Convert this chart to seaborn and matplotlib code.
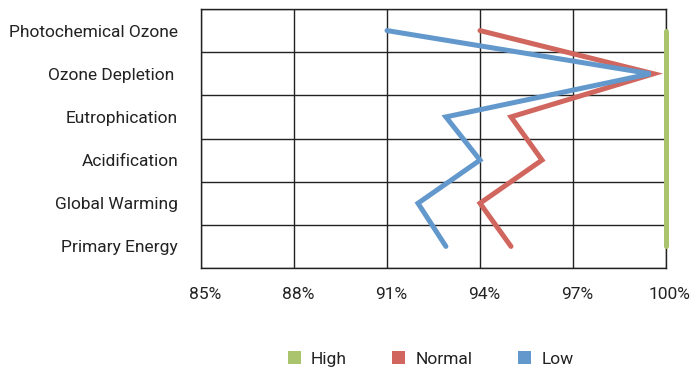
import matplotlib
matplotlib.use("Agg")
import matplotlib.pyplot as plt
import matplotlib.transforms as mtransforms
from matplotlib.patches import Patch
import seaborn as sns
import pandas as pd
import numpy as np

categories = ["Photochemical Ozone", "Ozone Depletion ", "Eutrophication",
              "Acidification", "Global Warming", "Primary Energy"]
high = [100.0, 100.0, 100.0, 100.0, 100.0, 100.0]
normal = [94.0, 99.6, 95.0, 96.0, 94.0, 95.0]
low = [91.0, 99.5, 92.9, 94.0, 92.0, 92.9]
series_names = ["High", "Normal", "Low"]
x_ticks = [85, 88, 91, 94, 97, 100]
x_tick_labels = ["85%", "88%", "91%", "94%", "97%", "100%"]

colors = {"High": "#A9C46C", "Normal": "#D0665E", "Low": "#6298CB"}

sns.set_theme(style="white")
plt.rcParams["font.family"] = ["Roboto", "DejaVu Sans"]
FS = 12.5

rows = []
for name, vals in zip(series_names, [high, normal, low]):
    for i, v in enumerate(vals):
        rows.append({"series": name, "pos": i + 0.5, "value": v})
df = pd.DataFrame(rows)

fig = plt.figure(figsize=(6.91, 3.68), dpi=100)
ax = fig.add_axes([201 / 691, 1 - 268 / 368, 465 / 691, 259 / 368])

sns.lineplot(data=df, x="value", y="pos", hue="series", hue_order=series_names,
             palette=colors, orient="y", sort=False, linewidth=3.6,
             legend=False, ax=ax)
for line in ax.get_lines():
    line.set_solid_capstyle("round")
    line.set_solid_joinstyle("miter")
    line.set_clip_on(False)
    line.set_zorder(4)

ax.set_xlim(85, 100)
ax.set_ylim(len(categories), 0)
ax.set_xticks(x_ticks)
ax.set_xticklabels(x_tick_labels, fontsize=FS, color="#222222")
ax.set_yticks(np.arange(len(categories)) + 0.5)
ax.set_yticklabels(categories, fontsize=FS, color="#222222")
ax.set_yticks(np.arange(len(categories) + 1), minor=True)
ax.tick_params(axis="both", which="both", length=0)
ax.tick_params(axis="x", pad=14)
ax.tick_params(axis="y", pad=16.5)
ax.set_xlabel("")
ax.set_ylabel("")

ax.grid(True, axis="x", which="major", color="#222222", linewidth=1.0)
ax.grid(True, axis="y", which="minor", color="#222222", linewidth=1.0)
ax.grid(False, axis="y", which="major")
ax.set_axisbelow(True)
for sp in ax.spines.values():
    sp.set_color("#222222")
    sp.set_linewidth(1.0)
    sp.set_zorder(2)

offset = mtransforms.ScaledTranslation(4 / 100, 0, fig.dpi_scale_trans)
for lbl in ax.get_xticklabels():
    lbl.set_transform(lbl.get_transform() + offset)

handles = [Patch(facecolor=colors[n], edgecolor="none") for n in series_names]
fig.legend(handles, series_names, loc="center", bbox_to_anchor=(0.623, 1 - 359 / 368),
           ncol=3, frameon=False, fontsize=FS, handlelength=0.75, handleheight=0.75,
           handletextpad=0.6, columnspacing=2.6, labelcolor="#222222")

fig.savefig("out.png", dpi=100)
